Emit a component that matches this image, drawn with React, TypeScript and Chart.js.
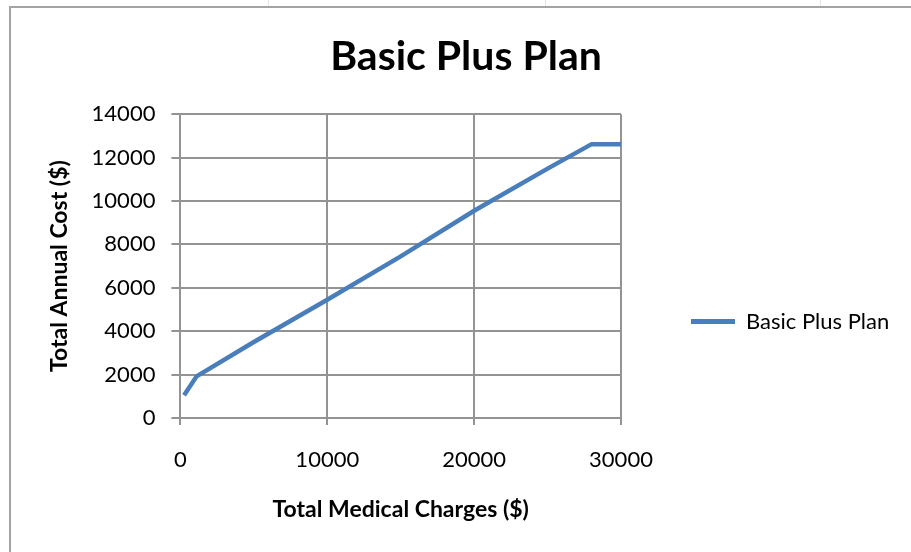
import React, { useEffect, useRef } from "react";
import { Chart, registerables } from "chart.js";

Chart.register(...registerables);

// Data
const seriesName = "Basic Plus Plan";
const medicalCharges = [250, 1100, 5000, 10000, 15000, 20000, 25000, 28000, 30000];
const annualCost = [1050, 1920, 3500, 5450, 7450, 9550, 11490, 12620, 12620];
const xTickValues = [0, 10000, 20000, 30000];
const yTickValues = [0, 2000, 4000, 6000, 8000, 10000, 12000, 14000];

const chartTitle = "Basic Plus Plan";
const xAxisTitle = "Total Medical Charges ($)";
const yAxisTitle = "Total Annual Cost ($)";

const LINE_COLOR = "#4a7ebb";
const GRID_COLOR = "#939393";
const FONT = "Lato";
const LEGEND_WIDTH = 290;

// Gives the right-hand legend a fixed width, so the gap between plot and legend matches.
const legendWidthPlugin = {
  id: "legendWidth",
  afterInit(chart: any) {
    const lg = chart.legend;
    if (!lg) return;
    const orig = lg.fit.bind(lg);
    lg.fit = function () {
      orig();
      this.width = LEGEND_WIDTH;
    };
  },
};

export default function App() {
  const canvasRef = useRef<HTMLCanvasElement | null>(null);

  useEffect(() => {
    const canvas = canvasRef.current;
    if (!canvas) return;
    const points = medicalCharges.map((x, i) => ({ x, y: annualCost[i] }));
    const chart = new Chart(canvas, {
      type: "scatter",
      data: {
        datasets: [
          {
            label: seriesName,
            data: points,
            showLine: true,
            borderColor: LINE_COLOR,
            backgroundColor: LINE_COLOR,
            borderWidth: 4.5,
            pointRadius: 0,
            pointHoverRadius: 0,
            tension: 0,
          },
        ],
      },
      plugins: [legendWidthPlugin],
      options: {
        animation: false,
        responsive: false,
        maintainAspectRatio: false,
        layout: { padding: { left: 10, right: 0, top: 0, bottom: 29 } },
        plugins: {
          title: {
            display: true,
            text: chartTitle,
            color: "#000",
            font: { family: FONT, size: 41, weight: "bold" },
            padding: { top: 24, bottom: 33 },
          },
          legend: {
            display: true,
            position: "right",
            align: "center",
            title: {
              display: true,
              text: " ",
              font: { family: FONT, size: 10 },
              padding: { top: 0, bottom: 100 },
            },
            labels: {
              boxWidth: 44,
              boxHeight: 5,
              padding: 70,
              color: "#000",
              font: { family: FONT, size: 22 },
              generateLabels: () => [
                {
                  text: seriesName,
                  fillStyle: LINE_COLOR,
                  strokeStyle: LINE_COLOR,
                  lineWidth: 0,
                  hidden: false,
                  datasetIndex: 0,
                  fontColor: "#000",
                },
              ],
            },
          },
          tooltip: { enabled: false },
        },
        scales: {
          x: {
            type: "linear",
            min: 0,
            max: 30000,
            afterBuildTicks: (axis: any) => {
              axis.ticks = xTickValues.map((v) => ({ value: v }));
            },
            grid: {
              color: GRID_COLOR,
              lineWidth: 2,
              drawTicks: true,
              tickLength: 7,
            },
            border: { color: GRID_COLOR, width: 2 },
            ticks: {
              color: "#000",
              font: { family: FONT, size: 22 },
              padding: 22,
              maxRotation: 0,
              callback: (v: any) => String(v),
            },
            title: {
              display: true,
              text: xAxisTitle,
              color: "#000",
              font: { family: FONT, size: 23, weight: "bold" },
              padding: { top: 0, bottom: 0 },
            },
          },
          y: {
            type: "linear",
            min: 0,
            max: 14000,
            afterBuildTicks: (axis: any) => {
              axis.ticks = yTickValues.map((v) => ({ value: v }));
            },
            grid: {
              color: GRID_COLOR,
              lineWidth: 2,
              drawTicks: true,
              tickLength: 9,
            },
            border: { color: GRID_COLOR, width: 2 },
            ticks: {
              color: "#000",
              font: { family: FONT, size: 22 },
              padding: 16,
              callback: (v: any) => String(v),
            },
            title: {
              display: true,
              text: yAxisTitle,
              color: "#000",
              font: { family: FONT, size: 23, weight: "bold" },
              padding: { top: 25, bottom: 2 },
            },
          },
        },
      },
    });
    return () => chart.destroy();
  }, []);

  const topLines = [268, 545, 820];

  return (
    <div
      style={{
        position: "absolute",
        left: 0,
        top: 0,
        width: 911,
        height: 552,
        background: "#fff",
        overflow: "hidden",
      }}
    >
      {topLines.map((x) => (
        <div
          key={x}
          style={{ position: "absolute", left: x, top: 0, width: 1, height: 7, background: "#dfe3ea" }}
        />
      ))}
      <div
        style={{
          position: "absolute",
          left: 9,
          top: 6,
          width: 902,
          height: 546,
          borderLeft: "2px solid #a3a3a3",
          borderTop: "2px solid #a3a3a3",
          background: "#fff",
        }}
      >
        <canvas ref={canvasRef} width={900} height={544} style={{ display: "block" }} />
      </div>
    </div>
  );
}
